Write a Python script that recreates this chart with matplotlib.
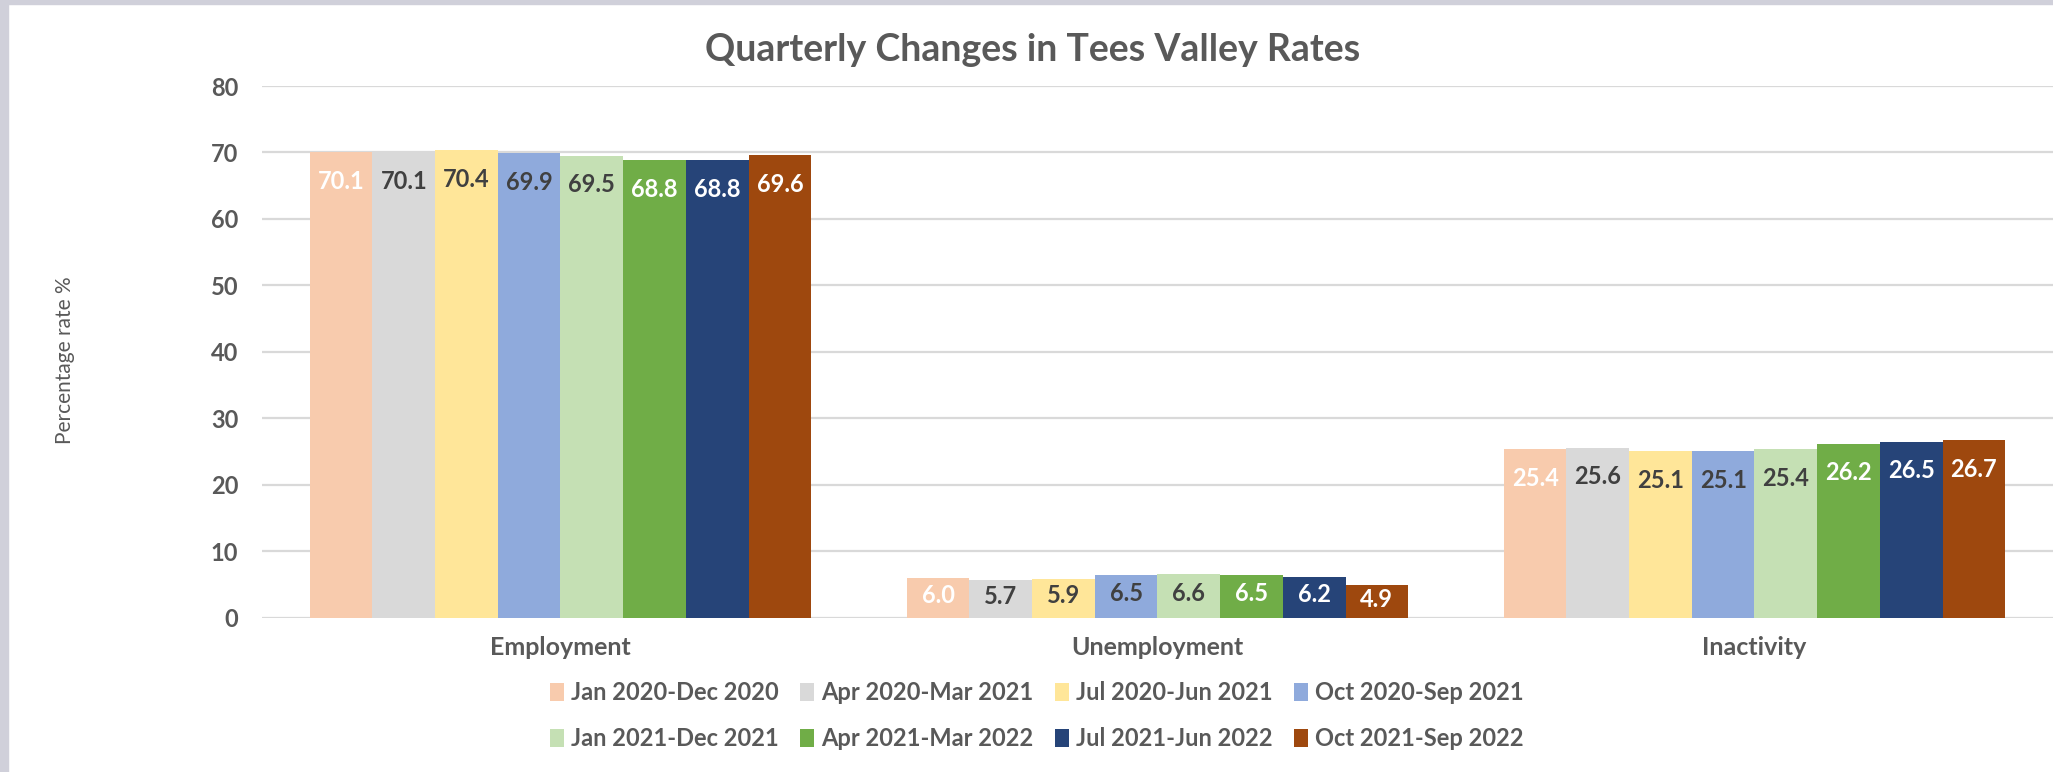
import matplotlib
matplotlib.use("Agg")
import matplotlib.pyplot as plt
from matplotlib.patches import Rectangle
import numpy as np

plt.rcParams['font.family'] = ['Lato', 'DejaVu Sans']

categories = ["Employment", "Unemployment", "Inactivity"]
periods = ["Jan 2020-Dec 2020", "Apr 2020-Mar 2021", "Jul 2020-Jun 2021",
           "Oct 2020-Sep 2021", "Jan 2021-Dec 2021", "Apr 2021-Mar 2022",
           "Jul 2021-Jun 2022", "Oct 2021-Sep 2022"]

# one list per period: employment, unemployment, inactivity
jan20_dec20 = [70.1, 6.0, 25.4]
apr20_mar21 = [70.1, 5.7, 25.6]
jul20_jun21 = [70.4, 5.9, 25.1]
oct20_sep21 = [69.9, 6.5, 25.1]
jan21_dec21 = [69.5, 6.6, 25.4]
apr21_mar22 = [68.8, 6.5, 26.2]
jul21_jun22 = [68.8, 6.2, 26.5]
oct21_sep22 = [69.6, 4.9, 26.7]
series = [jan20_dec20, apr20_mar21, jul20_jun21, oct20_sep21,
          jan21_dec21, apr21_mar22, jul21_jun22, oct21_sep22]

colors = ["#F8CBAD", "#D9D9D9", "#FFE699", "#8FAADC",
          "#C5E0B4", "#70AD47", "#264478", "#9E480E"]
label_colors = ["white", "#404040", "#404040", "#404040",
                "#404040", "white", "white", "white"]

grey = "#595959"

fig = plt.figure(figsize=(20.53, 7.72), dpi=100)
ax = fig.add_axes([0.1276, 0.1995, 0.8724, 0.6891])

x = np.arange(len(categories))
width = 0.105
handles = []
for i, vals in enumerate(series):
    pos = x + (i - 3.5) * width
    bars = ax.bar(pos, vals, width, color=colors[i], label=periods[i], zorder=2)
    handles.append(bars)
    for p, v in zip(pos, vals):
        if v > 10:
            ax.annotate(f"{v:.1f}", (p, v), xytext=(0, -21), textcoords="offset points",
                        ha="center", va="center", fontsize=17, fontweight="bold",
                        color=label_colors[i], zorder=3)
        else:
            ax.text(p, v / 2 + 0.4, f"{v:.1f}", ha="center", va="center",
                    fontsize=17, fontweight="bold", color=label_colors[i], zorder=3)

ax.set_xlim(-0.5, 2.5)
ax.set_ylim(0, 80)
ax.set_yticks(range(0, 81, 10))
ax.set_xticks(x)
ax.set_xticklabels(categories)
ax.yaxis.grid(True, color="#D9D9D9", linewidth=1.6, zorder=0)
ax.set_axisbelow(True)
for s in ax.spines.values():
    s.set_visible(False)
ax.tick_params(axis="y", length=0, pad=17, labelsize=17, labelcolor=grey)
ax.tick_params(axis="x", length=0, pad=13, labelsize=18, labelcolor=grey)
for t in ax.get_yticklabels() + ax.get_xticklabels():
    t.set_fontweight("bold")

fig.text(0.503, 0.935, "Quarterly Changes in Tees Valley Rates", ha="center",
         va="center", fontsize=27, fontweight="bold", color=grey)
fig.text(0.0317, 0.534, "Percentage rate %", rotation=90, ha="center",
         va="center", fontsize=15, color=grey)

# legend in row-major order
order = [0, 4, 1, 5, 2, 6, 3, 7]
leg = fig.legend([handles[k] for k in order], [periods[k] for k in order],
                 loc="center", bbox_to_anchor=(0.505, 0.073), ncol=4, frameon=False,
                 fontsize=17, handlelength=0.6, handleheight=0.8, handletextpad=0.3,
                 columnspacing=0.9, labelspacing=1.0)
for t in leg.get_texts():
    t.set_color(grey)
    t.set_fontweight("bold")

# window frame strips
fig.patches.append(Rectangle((0, 0), 8 / 2053, 1, transform=fig.transFigure,
                             color="#D0D0DA", zorder=0))
fig.patches.append(Rectangle((0, 1 - 4 / 772), 1, 4 / 772, transform=fig.transFigure,
                             color="#D0D0DA", zorder=0))

fig.savefig("out.png", dpi=100)
